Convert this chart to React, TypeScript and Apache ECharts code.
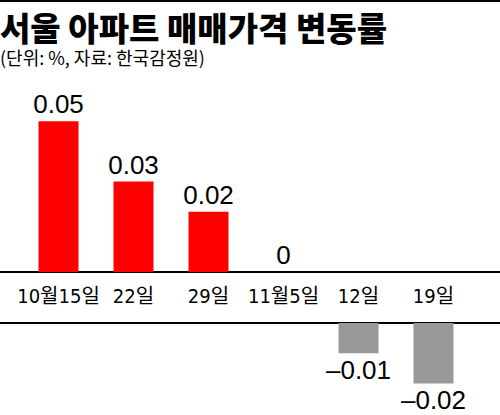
import React, { useEffect, useRef } from "react";
import * as echarts from "echarts";

const categories = ["10월15일", "22일", "29일", "11월5일", "12일", "19일"];
const values = [0.05, 0.03, 0.02, 0, -0.01, -0.02];
const titleText = "서울 아파트 매매가격 변동률";
const subtitleText = "(단위: %, 자료: 한국감정원)";

const positives = values.map((v) => (v >= 0 ? v : "-"));
const negatives = values.map((v) => (v < 0 ? v : "-"));

const CJK = '"Noto Sans CJK KR", "Noto Sans", sans-serif';
const NUM = '"Liberation Sans", Arial, sans-serif';
const NARROW = '"Liberation Sans Narrow", "DejaVu Sans Condensed", "Noto Sans CJK KR", sans-serif';

export default function App() {
  const ref = useRef<HTMLDivElement>(null);
  useEffect(() => {
    if (!ref.current) return;
    const chart = echarts.init(ref.current, null, { renderer: "svg" });
    chart.setOption({
      animation: false,
      backgroundColor: "#ffffff",
      grid: [
        { left: 21, width: 450, top: 91, height: 181 },
        { left: 21, width: 450, top: 323, height: 90.6 },
      ],
      xAxis: [
        {
          gridIndex: 0,
          type: "category",
          data: categories,
          axisLine: { show: false },
          axisTick: { show: false },
          axisLabel: {
            interval: 0,
            margin: 14,
            color: "#000",
            fontSize: 20,
            fontFamily: NARROW,
          },
        },
        {
          gridIndex: 1,
          type: "category",
          data: categories,
          axisLine: { show: false },
          axisTick: { show: false },
          axisLabel: { show: false },
        },
      ],
      yAxis: [
        { gridIndex: 0, type: "value", min: 0, max: 0.06, show: false },
        { gridIndex: 1, type: "value", min: -0.03, max: 0, show: false },
      ],
      series: [
        {
          type: "bar",
          xAxisIndex: 0,
          yAxisIndex: 0,
          data: positives,
          barWidth: 40,
          itemStyle: { color: "#ff0000" },
          label: {
            show: true,
            position: "top",
            distance: 4,
            color: "#000",
            fontSize: 26,
            fontFamily: NUM,
            formatter: (p: any) => String(p.value),
          },
        },
        {
          type: "bar",
          xAxisIndex: 1,
          yAxisIndex: 1,
          data: negatives,
          barWidth: 40,
          itemStyle: { color: "#999999" },
          label: {
            show: true,
            position: "bottom",
            distance: 4,
            color: "#000",
            fontSize: 26,
            fontFamily: NUM,
            formatter: (p: any) => String(p.value).replace("-", "–"),
          },
        },
      ],
      graphic: [
        { type: "rect", shape: { x: 0, y: 0, width: 500, height: 2 }, style: { fill: "#000" } },
        { type: "line", shape: { x1: 0, y1: 272, x2: 500, y2: 272 }, style: { stroke: "#000", lineWidth: 2 } },
        { type: "line", shape: { x1: 0, y1: 323, x2: 500, y2: 323 }, style: { stroke: "#000", lineWidth: 2 } },
        {
          type: "text",
          x: 0,
          y: 10,
          style: {
            text: titleText,
            fill: "#000",
            font: `900 33px ${CJK}`,
            lineHeight: 34,
            textVerticalAlign: "top",
          },
        },
        {
          type: "text",
          x: 0,
          y: 47,
          style: {
            text: subtitleText,
            fill: "#000",
            font: `400 18px ${CJK}`,
            lineHeight: 20,
            textVerticalAlign: "top",
          },
        },
      ],
    });
    return () => chart.dispose();
  }, []);
  return (
    <div
      ref={ref}
      style={{ position: "fixed", left: 0, top: 0, width: 500, height: 415 }}
    />
  );
}
